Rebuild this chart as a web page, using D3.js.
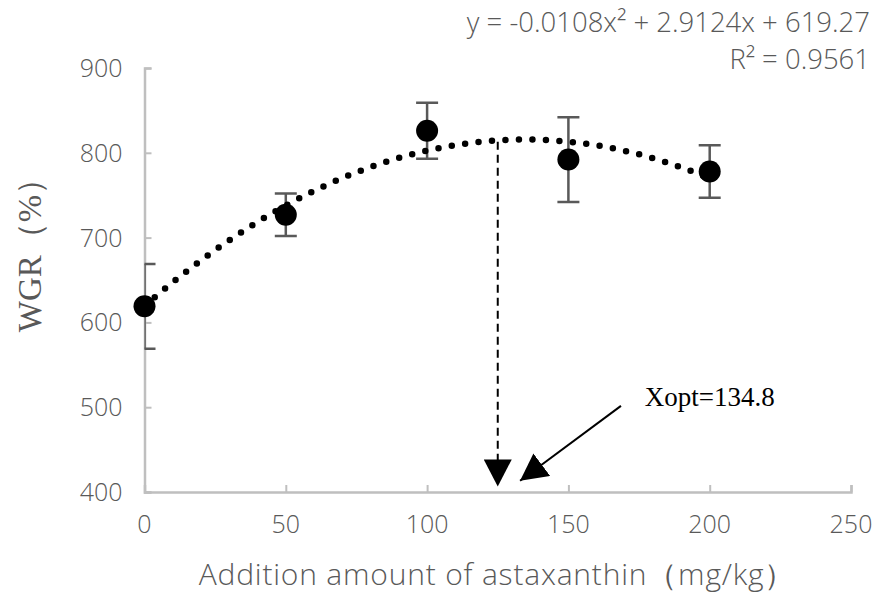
<!DOCTYPE html>
<html lang="en">
<head>
  <meta charset="UTF-8">
  <title>WGR vs astaxanthin</title>
  <script src="https://d3js.org/d3.v7.min.js"></script>
  <style>
    body {
      margin: 0;
      background: #fff;
    }
    .tick-label, .eq, .x-title {
      font-family: "Open Sans", "Noto Sans", sans-serif;
      font-weight: 300;
      fill: #595959;
    }
  </style>
</head>
<body>
  <svg id="chart" width="886" height="600"></svg>

  <script>
    // data
    const doses = [0, 50, 100, 150, 200];
    const wgr = [619, 727, 826, 792, 778];
    const sd = [50, 25, 33, 50, 31];
    const fitCoef = [-0.0108, 2.9124, 619.27]; // a x^2 + b x + c
    const xTicks = [0, 50, 100, 150, 200, 250];
    const yTicks = [400, 500, 600, 700, 800, 900];
    const eqLines = ["y = -0.0108x² + 2.9124x + 619.27", "R² = 0.9561"];
    const xOptLabel = "Xopt=134.8";

    const svg = d3.select("#chart");

    const x = d3.scaleLinear().domain([0, 250]).range([144.5, 851]);
    const y = d3.scaleLinear().domain([400, 900]).range([492, 68]);

    const axisColor = "#bfbfbf";

    // clip for error bars (Excel cuts them at the plot edge)
    svg.append("clipPath").attr("id", "plot-clip")
      .append("rect")
      .attr("x", x(0)).attr("y", y(900))
      .attr("width", x(250) - x(0)).attr("height", y(400) - y(900));

    // axes
    const yAxis = d3.axisRight(y).tickValues(yTicks).tickSize(7).tickFormat("");
    const xAxis = d3.axisTop(x).tickValues(xTicks).tickSize(7).tickFormat("");

    const gy = svg.append("g").attr("transform", `translate(${x(0)},0)`).call(yAxis);
    const gx = svg.append("g").attr("transform", `translate(0,${y(400)})`).call(xAxis);
    [gx, gy].forEach(g => {
      g.select(".domain").attr("stroke", axisColor).attr("stroke-width", 2.5);
      g.selectAll(".tick line").attr("stroke", axisColor).attr("stroke-width", 2);
    });

    // tick labels
    svg.append("g").selectAll("text")
      .data(yTicks)
      .join("text")
      .attr("class", "tick-label")
      .attr("x", x(0) - 22)
      .attr("y", d => y(d) + 9)
      .attr("text-anchor", "end")
      .attr("font-size", 25)
      .text(d => d);

    svg.append("g").selectAll("text")
      .data(xTicks)
      .join("text")
      .attr("class", "tick-label")
      .attr("x", d => x(d))
      .attr("y", y(400) + 41)
      .attr("text-anchor", "middle")
      .attr("font-size", 25)
      .text(d => d);

    // axis titles
    svg.append("text")
      .attr("class", "x-title")
      .attr("x", 497)
      .attr("y", 585)
      .attr("text-anchor", "middle")
      .attr("font-size", 30)
      .attr("letter-spacing", 0.8)
      .text("Addition amount of astaxanthin（mg/kg）");

    svg.append("text")
      .attr("transform", "translate(41,247) rotate(-90)")
      .attr("text-anchor", "middle")
      .attr("font-family", "'Liberation Serif', 'Times New Roman', serif")
      .attr("font-size", 33)
      .attr("fill", "#595959")
      .text("WGR（%）");

    // error bars
    const pts = doses.map((d, i) => ({ x: d, y: wgr[i], e: sd[i] }));
    const err = svg.append("g")
      .attr("clip-path", "url(#plot-clip)")
      .attr("stroke", "#595959")
      .attr("stroke-width", 2.5);

    err.selectAll(".stem").data(pts).join("line")
      .attr("x1", d => x(d.x)).attr("x2", d => x(d.x))
      .attr("y1", d => y(d.y - d.e)).attr("y2", d => y(d.y + d.e));
    err.selectAll(".cap-top").data(pts).join("line")
      .attr("x1", d => x(d.x) - 11).attr("x2", d => x(d.x) + 11)
      .attr("y1", d => y(d.y + d.e)).attr("y2", d => y(d.y + d.e));
    err.selectAll(".cap-bot").data(pts).join("line")
      .attr("x1", d => x(d.x) - 11).attr("x2", d => x(d.x) + 11)
      .attr("y1", d => y(d.y - d.e)).attr("y2", d => y(d.y - d.e));

    // markers
    svg.append("g").selectAll("circle")
      .data(pts)
      .join("circle")
      .attr("cx", d => x(d.x))
      .attr("cy", d => y(d.y))
      .attr("r", 11)
      .attr("fill", "#000");

    // polynomial trendline (dotted)
    const fit = t => fitCoef[0] * t * t + fitCoef[1] * t + fitCoef[2];
    const trend = d3.range(0, 200.5, 1).map(t => [t, fit(t)]);
    svg.append("path")
      .attr("d", d3.line().x(d => x(d[0])).y(d => y(d[1]))(trend))
      .attr("fill", "none")
      .attr("stroke", "#000")
      .attr("stroke-width", 6.5)
      .attr("stroke-linecap", "round")
      .attr("stroke-dasharray", "0 13.5");

    // equation text
    svg.append("g").selectAll("text")
      .data(eqLines)
      .join("text")
      .attr("class", "eq")
      .attr("x", 870)
      .attr("y", (d, i) => 32 + i * 36.5)
      .attr("text-anchor", "end")
      .attr("font-size", 27.5)
      .text(d => d);

    // annotation arrows
    const defs = svg.append("defs");
    defs.append("marker")
      .attr("id", "head")
      .attr("markerUnits", "userSpaceOnUse")
      .attr("markerWidth", 28).attr("markerHeight", 28)
      .attr("viewBox", "0 0 28 28")
      .attr("refX", 27).attr("refY", 14)
      .attr("orient", "auto")
      .append("path")
      .attr("d", "M0,0 L27,14 L0,28 Z")
      .attr("fill", "#000");

    const optX = 125;
    svg.append("line")
      .attr("x1", x(optX)).attr("x2", x(optX))
      .attr("y1", y(813)).attr("y2", y(436))
      .attr("stroke", "#000")
      .attr("stroke-width", 2)
      .attr("stroke-dasharray", "8 5");
    svg.append("line")
      .attr("x1", x(optX)).attr("x2", x(optX))
      .attr("y1", y(436)).attr("y2", y(406.5))
      .attr("stroke", "none")
      .attr("marker-end", "url(#head)");

    svg.append("line")
      .attr("x1", x(168.6)).attr("y1", y(501.5))
      .attr("x2", x(132.9)).attr("y2", y(413.3))
      .attr("stroke", "#000")
      .attr("stroke-width", 2)
      .attr("marker-end", "url(#head)");

    svg.append("text")
      .attr("x", x(177))
      .attr("y", y(501.5))
      .attr("font-family", "'Liberation Serif', 'Times New Roman', serif")
      .attr("font-size", 27)
      .attr("fill", "#000")
      .text(xOptLabel);
  </script>
</body>
</html>
